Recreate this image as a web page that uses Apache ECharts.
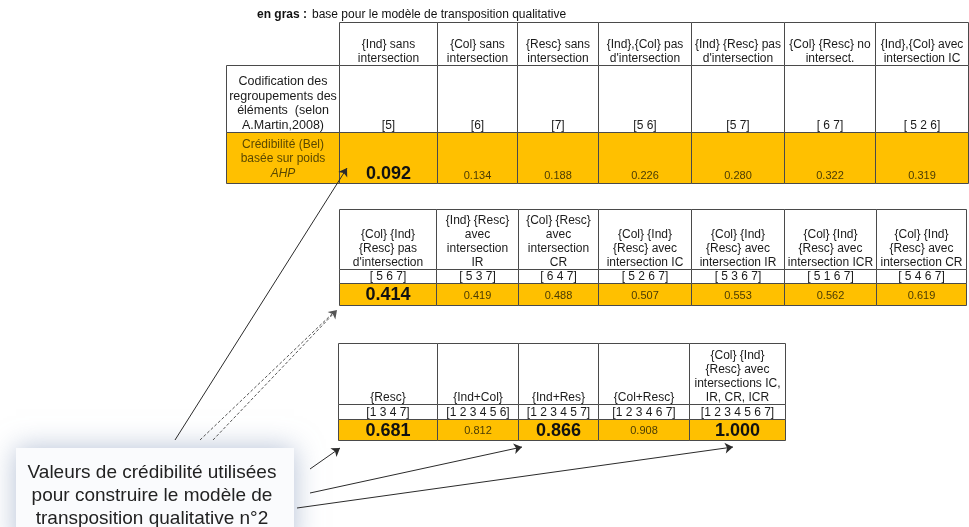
<!DOCTYPE html>
<html>
<head>
<meta charset="utf-8">
<script src="https://cdn.jsdelivr.net/npm/echarts@6/dist/echarts.min.js"></script>
<style>
html,body{margin:0;padding:0;background:#fff}
#main{width:969px;height:527px}
</style>
</head>
<body>
<div id="main"></div>
<script>
var titreGras = 'en gras :';
var titreSuite = 'base pour le modèle de transposition qualitative';
var libelleCodes = 'Codification des\nregroupements des\néléments  (selon\nA.Martin,2008)';
var libelleCredibilite = ['Crédibilité (Bel)', 'basée sur poids', 'AHP'];

var entetes1 = ['{Ind} sans\nintersection', '{Col} sans\nintersection', '{Resc} sans\nintersection',
	'{Ind},{Col} pas\nd\'intersection', '{Ind} {Resc} pas\nd\'intersection', '{Col} {Resc} no\nintersect.',
	'{Ind},{Col} avec\nintersection IC'];
var codes1 = ['[5]', '[6]', '[7]', '[5 6]', '[5 7]', '[ 6 7]', '[ 5 2 6]'];
var valeurs1 = [0.092, 0.134, 0.188, 0.226, 0.280, 0.322, 0.319];

var entetes2 = ['{Col} {Ind}\n{Resc} pas\nd\'intersection', '{Ind} {Resc}\navec\nintersection\nIR',
	'{Col} {Resc}\navec\nintersection\nCR', '{Col} {Ind}\n{Resc} avec\nintersection IC',
	'{Col} {Ind}\n{Resc} avec\nintersection IR', '{Col} {Ind}\n{Resc} avec\nintersection ICR',
	'{Col} {Ind}\n{Resc} avec\nintersection CR'];
var codes2 = ['[ 5 6 7]', '[ 5 3 7]', '[ 6 4 7]', '[ 5 2 6 7]', '[ 5 3 6 7]', '[ 5 1 6 7]', '[ 5 4 6 7]'];
var valeurs2 = [0.414, 0.419, 0.488, 0.507, 0.553, 0.562, 0.619];

var entetes3 = ['{Resc}', '{Ind+Col}', '{Ind+Res}', '{Col+Resc}',
	'{Col} {Ind}\n{Resc} avec\nintersections IC,\nIR, CR, ICR'];
var codes3 = ['[1 3 4 7]', '[1 2 3 4 5 6]', '[1 2 3 4 5 7]', '[1 2 3 4 6 7]', '[1 2 3 4 5 6 7]'];
var valeurs3 = [0.681, 0.812, 0.866, 0.908, 1.000];

// valeurs en gras : base pour le modèle de transposition qualitative
var basesModele = [0.092, 0.414, 0.681, 0.866, 1.000];
var noteModele = 'Valeurs de crédibilité utilisées\npour construire le modèle de\ntransposition qualitative n°2';

// ---- mise en page (pixels de la page) ----
var W = 969, H = 527;
var POLICE = '"Liberation Sans", Arial, sans-serif';
var JAUNE = '#FFC000', TRAIT = '#4a4a4a';
var tableaux = [
	{cols: [339, 437, 517, 598, 691, 784, 875, 968], rows: [22, 65, 132, 183], libX: 226, enBas: true,
		entetes: entetes1, codes: codes1, valeurs: valeurs1},
	{cols: [339, 436, 518, 598, 691, 784, 876, 966], rows: [209, 269, 283, 305], enBas: false,
		entetes: entetes2, codes: codes2, valeurs: valeurs2},
	{cols: [338, 437, 518, 598, 689, 785], rows: [343, 404, 419, 440], enBas: false,
		entetes: entetes3, codes: codes3, valeurs: valeurs3}
];
// flèches de la note vers les valeurs retenues : [départ, arrivée]
var fleches = [
	[[175, 440], [347, 168]],
	[[310, 469], [340, 448]],
	[[310, 493], [522, 447]],
	[[297, 508], [733, 447]]
];
var flechesPointillees = [
	[[213, 440], [337, 310]],
	[[200, 440], [333, 313]]
];

function net(v) {
	return Math.round(v) + 0.5;
}

function cadre(x0, y0, x1, y1, fond) {
	return {
		type: 'rect',
		shape: {x: x0, y: y0, width: x1 - x0, height: y1 - y0},
		style: {fill: fond, stroke: TRAIT, lineWidth: 1}
	};
}

function texte(str, x, y, va, taille, gras, couleur, hl) {
	return {
		type: 'text',
		style: {
			text: str, x: x, y: y, align: 'center', verticalAlign: va,
			fontSize: taille, fontWeight: gras ? 'bold' : 'normal', fontFamily: POLICE,
			lineHeight: hl || 14, fill: couleur
		}
	};
}

function dessineTableau(t) {
	return function (params, api) {
		var i = api.value(0);
		var v = api.value(1);
		var x0 = net(api.coord([t.cols[i], 0])[0]);
		var x1 = net(api.coord([t.cols[i + 1], 0])[0]);
		var y = t.rows.map(function (r) { return net(api.coord([0, r])[1]); });
		var cx = (x0 + x1) / 2;
		var gras = basesModele.indexOf(v) >= 0;
		var enfants = [
			cadre(x0, y[0], x1, y[1], '#fff'),
			cadre(x0, y[1], x1, y[2], '#fff'),
			cadre(x0, y[2], x1, y[3], JAUNE),
			texte(t.entetes[i], cx, y[1], 'bottom', 12, false, '#1a1a1a')
		];
		if (t.enBas) {
			enfants.push(texte(t.codes[i], cx, y[2], 'bottom', 12, false, '#1a1a1a'));
			enfants.push(texte(v.toFixed(3), cx, y[3] + (gras ? 1 : -1), 'bottom', gras ? 18 : 11, gras,
				gras ? '#111' : '#4a3b05', gras ? 20 : 14));
		} else {
			enfants.push(texte(t.codes[i], cx, (y[1] + y[2]) / 2 + 0.5, 'middle', 12, false, '#1a1a1a'));
			enfants.push(texte(v.toFixed(3), cx, (y[2] + y[3]) / 2 + 1, 'middle', gras ? 18 : 11, gras,
				gras ? '#111' : '#4a3b05'));
		}
		// colonne des libellés du premier tableau
		if (i === 0 && t.libX) {
			var lx = net(api.coord([t.libX, 0])[0]);
			var lc = (lx + x0) / 2;
			enfants.push(cadre(lx, y[1], x0, y[2], '#fff'));
			enfants.push(cadre(lx, y[2], x0, y[3], JAUNE));
			enfants.push(texte(libelleCodes, lc, y[2], 'bottom', 12.5, false, '#1a1a1a', 14.5));
			enfants.push({
				type: 'text',
				style: {
					text: '{n|' + libelleCredibilite[0] + '}\n{n|' + libelleCredibilite[1] + '}\n{i|' + libelleCredibilite[2] + '}',
					x: lc, y: (y[2] + y[3]) / 2 + 1, align: 'center', verticalAlign: 'middle',
					rich: {
						n: {fontSize: 12, fontFamily: POLICE, fill: '#5a4800', lineHeight: 14.5},
						i: {fontSize: 12, fontFamily: POLICE, fontStyle: 'italic', fill: '#5a4800', lineHeight: 14.5}
					}
				}
			});
		}
		return {type: 'group', children: enfants};
	};
}

var chart = echarts.init(document.getElementById('main'));

var series = tableaux.map(function (t) {
	return {
		type: 'custom',
		coordinateSystem: 'cartesian2d',
		clip: false,
		silent: true,
		renderItem: dessineTableau(t),
		data: t.valeurs.map(function (v, i) { return [i, v]; })
	};
});

series.push({
	type: 'lines',
	coordinateSystem: 'cartesian2d',
	silent: true,
	symbol: ['none', 'arrow'],
	symbolSize: 8,
	lineStyle: {color: '#2b2b2b', width: 1, opacity: 1},
	data: fleches.map(function (f) { return {coords: f}; })
});
series.push({
	type: 'lines',
	coordinateSystem: 'cartesian2d',
	silent: true,
	symbol: ['none', 'arrow'],
	symbolSize: 8,
	lineStyle: {color: '#555', width: 1, type: [3, 2], opacity: 1},
	data: flechesPointillees.map(function (f, k) {
		return {coords: f, symbol: k === 0 ? ['none', 'arrow'] : ['none', 'none']};
	})
});

chart.setOption({
	animation: false,
	backgroundColor: '#fff',
	title: {
		text: '{b|' + titreGras + '} {n|' + titreSuite + '}',
		left: 252, top: 1,
		textStyle: {
			fontWeight: 'normal',
			rich: {
				b: {fontSize: 12, fontWeight: 'bold', fontFamily: POLICE, color: '#111'},
				n: {fontSize: 12, fontWeight: 'normal', fontFamily: POLICE, color: '#111'}
			}
		}
	},
	grid: {left: 0, right: 0, top: 0, bottom: 0},
	xAxis: {type: 'value', min: 0, max: W, show: false},
	yAxis: {type: 'value', min: 0, max: H, inverse: true, show: false},
	graphic: [
		{
			type: 'rect', x: 16, y: 448, z: 0,
			shape: {width: 278, height: 100},
			style: {fill: '#fafbfd', shadowBlur: 26, shadowColor: 'rgba(130,150,185,0.6)'}
		},
		{
			type: 'text', z: 1,
			style: {
				text: noteModele, x: 152, y: 496, align: 'center', verticalAlign: 'middle',
				fontSize: 19, fontFamily: POLICE, fill: '#222', lineHeight: 23
			}
		}
	],
	series: series
});
</script>
</body>
</html>
